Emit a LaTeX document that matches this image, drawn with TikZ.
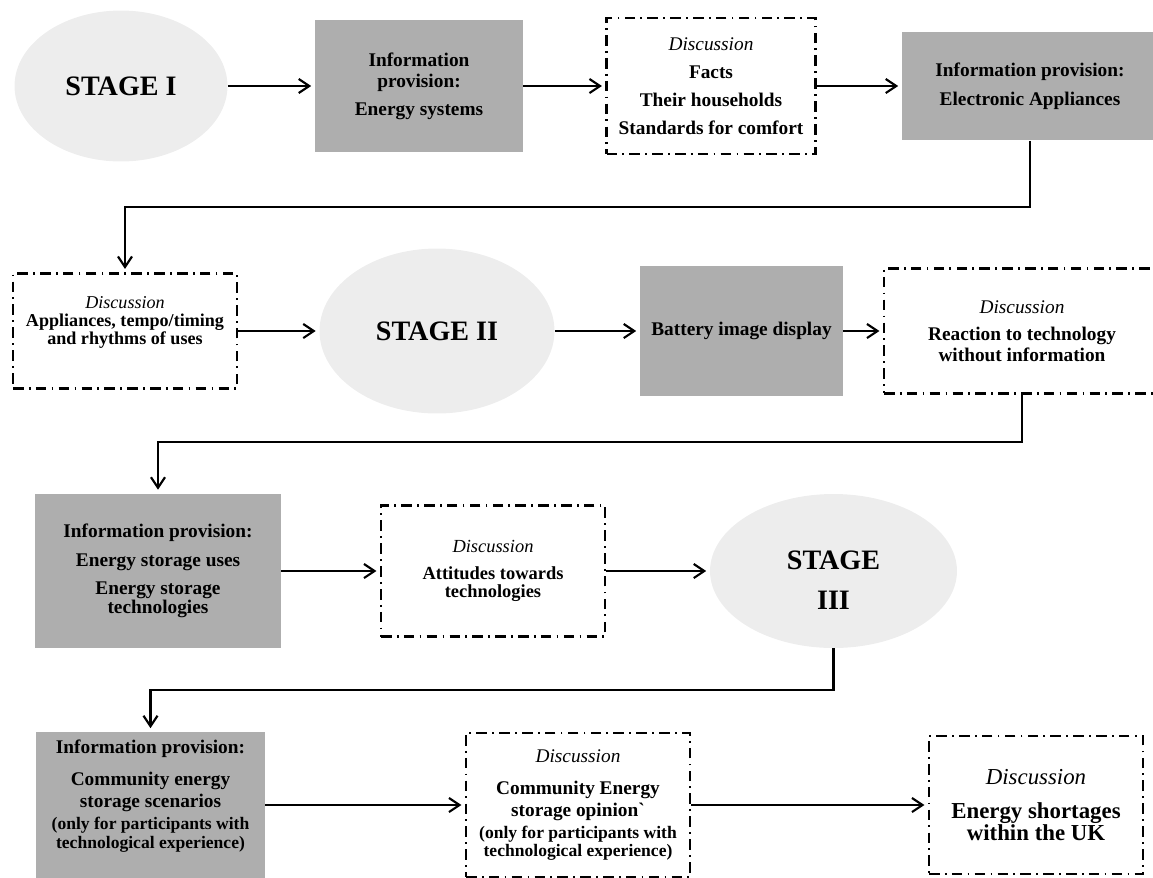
\documentclass[tikz,border=0pt]{standalone}
\usepackage{fontspec}
\setmainfont{Liberation Serif}
\usetikzlibrary{shapes.geometric,arrows.meta}
\definecolor{stagefill}{RGB}{237,237,237}
\definecolor{infofill}{RGB}{174,174,174}

\begin{document}
\begin{tikzpicture}[x=0.02cm,y=-0.02cm,
  stage/.style={ellipse,fill=stagefill,align=center,inner sep=0pt,font=\fontsize{16}{23}\selectfont\bfseries},
  info/.style={rectangle,fill=infofill,align=center,inner sep=0pt,font=\fontsize{11}{12}\selectfont\bfseries},
  talk/.style={rectangle,draw,line width=1.25pt,dash pattern=on 6pt off 3pt on 1pt off 3pt,align=center,inner sep=0pt,font=\fontsize{11}{12}\selectfont\bfseries},
  flow/.style={line width=1.2pt,-{Straight Barb[length=6pt,width=8pt]},shorten >=2pt}]
\useasboundingbox (0,0) rectangle (1153,877);

% first row
\node[stage,minimum width=4.26cm,minimum height=3.02cm] (st1) at (121,86) {STAGE I};
\node[info,minimum width=4.16cm,minimum height=2.64cm] (info1) at (419,86) {Information\\provision:\\[4pt]Energy systems};
\node[talk,minimum width=4.18cm,minimum height=2.72cm,font=\fontsize{11}{16}\selectfont\bfseries] (talk1) at (711,86) {\textit{\mdseries Discussion}\\Facts\\Their households\\Standards for comfort};
\node[info,minimum width=5.12cm,minimum height=2.18cm,font=\fontsize{11}{16.5}\selectfont\bfseries] (info2) at (1030,86) {Information provision:\\Electronic Appliances};
\draw[flow] (st1) -- (info1);
\draw[flow] (info1) -- (talk1);
\draw[flow] (talk1) -- (info2);

% second row
\node[talk,minimum width=4.48cm,minimum height=2.3cm,font=\fontsize{10.3}{10.3}\selectfont\bfseries,text depth=12pt] (talk2) at (125,331) {\textit{\mdseries Discussion}\\Appliances, tempo/timing\\and rhythms of uses};
\node[stage,minimum width=4.7cm,minimum height=3.3cm] (st2) at (437,331) {STAGE II};
\node[info,minimum width=4.06cm,minimum height=2.62cm] (batt) at (741.5,331) {Battery image display};
\node[talk,minimum width=5.52cm,minimum height=2.5cm] (talk3) at (1022,331) {\textit{\mdseries Discussion}\\[3.4pt]Reaction to technology\\without information};
\coordinate (bend1) at (125,207);
\draw[flow] (info2.south) |- (bend1) -- (talk2.north);
\draw[flow] (talk2) -- (st2);
\draw[flow] (st2) -- (batt);
\draw[flow] (batt) -- (talk3);

% third row
\node[info,minimum width=4.92cm,minimum height=3.1cm,font=\fontsize{11}{11}\selectfont\bfseries] (info3) at (158,571) {Information provision:\\[5pt]Energy storage uses\\[5pt]Energy storage\\technologies};
\node[talk,minimum width=4.48cm,minimum height=2.62cm,font=\fontsize{10.5}{10.3}\selectfont\bfseries] (talk4) at (493,571) {\textit{\mdseries Discussion}\\[5pt]Attitudes towards\\technologies};
\node[stage,minimum width=4.94cm,minimum height=3.08cm,text height=44pt] (st3) at (833.5,571) {STAGE\\III};
\coordinate (bend2) at (158,442);
\draw[flow] (talk3.south) |- (bend2) -- (info3.north);
\draw[flow] (info3) -- (talk4);
\draw[flow] (talk4) -- (st3);

% fourth row
\node[info,minimum width=4.58cm,minimum height=2.92cm,font=\fontsize{11}{12.3}\selectfont\bfseries,text depth=12.5pt] (info4) at (150.5,805) {Information provision:\\[6pt]Community energy\\storage scenarios\\{\fontsize{10}{10}\selectfont (only for participants with}\\[-1.5pt]{\fontsize{10}{10}\selectfont technological experience)}};
\node[talk,minimum width=4.48cm,minimum height=2.88cm,font=\fontsize{11}{12.3}\selectfont\bfseries] (talk5) at (578,805) {\textit{\mdseries Discussion}\\[6pt]Community Energy\\storage opinion\textasciigrave\\{\fontsize{10}{10}\selectfont (only for participants with}\\[-2pt]{\fontsize{10}{10}\selectfont technological experience)}};
\node[talk,minimum width=4.28cm,minimum height=2.76cm,font=\fontsize{13}{13}\selectfont\bfseries] (talk6) at (1036,805) {\textit{\mdseries Discussion}\\[6.4pt]Energy shortages\\within the UK};
\coordinate (bend3) at (150.5,690);
\draw[flow] (st3.south) |- (bend3) -- (info4.north);
\draw[flow] (info4) -- (talk5);
\draw[flow] (talk5) -- (talk6);
\end{tikzpicture}
\end{document}
